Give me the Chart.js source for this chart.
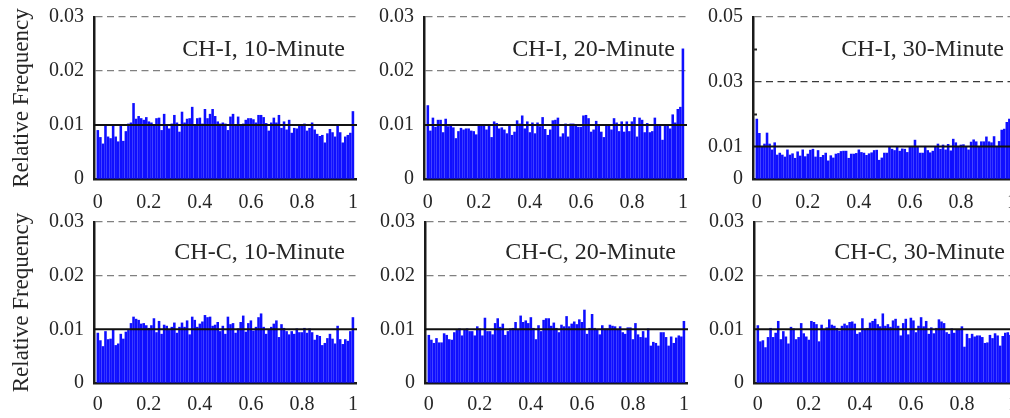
<!DOCTYPE html>
<html lang="en">
  <head>
    <meta charset="UTF-8" />
    <title>Relative Frequency Histograms</title>
    <script src="https://cdn.jsdelivr.net/npm/chart.js"></script>
    <style>
      html,
      body {
        margin: 0;
        padding: 0;
        background: #ffffff;
      }

      #figure {
        position: relative;
        width: 1010px;
        height: 418px;
        overflow: hidden;
      }

      #figure canvas {
        position: absolute;
      }
    </style>
  </head>
  <body>
    <div id="figure">
      <canvas id="chI10" width="357" height="216" style="left: 0; top: 0"></canvas>
      <canvas id="chI20" width="357" height="216" style="left: 330px; top: 0"></canvas>
      <canvas id="chI30" width="367" height="216" style="left: 659px; top: 0"></canvas>
      <canvas id="chC10" width="357" height="213" style="left: 0; top: 205px"></canvas>
      <canvas id="chC20" width="357" height="213" style="left: 331px; top: 205px"></canvas>
      <canvas id="chC30" width="367" height="213" style="left: 660px; top: 205px"></canvas>
    </div>

    <script>
      // bins of width 0.01, centred on 0, 0.01, ... 1
      const BIN_WIDTH = 0.01;
      const X_TICKS = [0, 0.2, 0.4, 0.6, 0.8, 1];
      const X_MIN = -0.015;
      const X_MAX = 1.016;
      const REF_LEVEL = 0.01;

      const CHI_10 = [
        0.0090, 0.0077, 0.0065, 0.0101, 0.0078, 0.0075, 0.0099, 0.0078, 0.0069, 0.0099,
        0.0070, 0.0088, 0.0102, 0.0104, 0.0140, 0.0111, 0.0116, 0.0112, 0.0109, 0.0114,
        0.0106, 0.0104, 0.0099, 0.0112, 0.0113, 0.0090, 0.0120, 0.0101, 0.0093, 0.0102,
        0.0118, 0.0104, 0.0087, 0.0124, 0.0104, 0.0111, 0.0112, 0.0133, 0.0098, 0.0112,
        0.0113, 0.0102, 0.0129, 0.0112, 0.0120, 0.0129, 0.0116, 0.0106, 0.0102, 0.0104,
        0.0102, 0.0090, 0.0115, 0.0120, 0.0101, 0.0115, 0.0101, 0.0102, 0.0109, 0.0112,
        0.0112, 0.0110, 0.0104, 0.0118, 0.0118, 0.0114, 0.0103, 0.0089, 0.0104, 0.0113,
        0.0104, 0.0118, 0.0094, 0.0106, 0.0091, 0.0109, 0.0085, 0.0094, 0.0093, 0.0098,
        0.0101, 0.0102, 0.0089, 0.0094, 0.0104, 0.0091, 0.0083, 0.0079, 0.0081, 0.0067,
        0.0084, 0.0092, 0.0086, 0.0078, 0.0098, 0.0086, 0.0067, 0.0078, 0.0081, 0.0085,
        0.0125,
      ];
      const CHI_20 = [
        0.0136, 0.0089, 0.0113, 0.0096, 0.0109, 0.0109, 0.0086, 0.0111, 0.0097, 0.0099,
        0.0095, 0.0075, 0.0088, 0.0094, 0.0091, 0.0093, 0.0093, 0.0089, 0.0088, 0.0082,
        0.0099, 0.0100, 0.0099, 0.0091, 0.0098, 0.0077, 0.0106, 0.0103, 0.0093, 0.0095,
        0.0091, 0.0084, 0.0100, 0.0081, 0.0087, 0.0108, 0.0102, 0.0117, 0.0093, 0.0106,
        0.0086, 0.0104, 0.0084, 0.0104, 0.0097, 0.0114, 0.0092, 0.0081, 0.0091, 0.0108,
        0.0109, 0.0113, 0.0078, 0.0084, 0.0102, 0.0078, 0.0102, 0.0102, 0.0101, 0.0096,
        0.0096, 0.0117, 0.0118, 0.0112, 0.0087, 0.0091, 0.0107, 0.0099, 0.0087, 0.0077,
        0.0101, 0.0099, 0.0091, 0.0112, 0.0104, 0.0088, 0.0106, 0.0087, 0.0106, 0.0088,
        0.0106, 0.0114, 0.0078, 0.0113, 0.0109, 0.0086, 0.0103, 0.0086, 0.0088, 0.0113,
        0.0099, 0.0099, 0.0072, 0.0099, 0.0100, 0.0093, 0.0119, 0.0104, 0.0129, 0.0133,
        0.0241,
      ];
      const CHI_30 = [
        0.0185, 0.0141, 0.0098, 0.0108, 0.0142, 0.0108, 0.0090, 0.0112, 0.0074, 0.0080,
        0.0074, 0.0068, 0.0090, 0.0074, 0.0078, 0.0064, 0.0084, 0.0071, 0.0090, 0.0069,
        0.0077, 0.0089, 0.0092, 0.0068, 0.0088, 0.0067, 0.0073, 0.0080, 0.0056, 0.0072,
        0.0065, 0.0077, 0.0079, 0.0085, 0.0086, 0.0086, 0.0064, 0.0077, 0.0077, 0.0079,
        0.0090, 0.0082, 0.0080, 0.0073, 0.0078, 0.0081, 0.0088, 0.0089, 0.0058, 0.0065,
        0.0080, 0.0080, 0.0098, 0.0092, 0.0088, 0.0100, 0.0086, 0.0093, 0.0092, 0.0082,
        0.0098, 0.0101, 0.0120, 0.0099, 0.0080, 0.0080, 0.0101, 0.0088, 0.0081, 0.0086,
        0.0098, 0.0108, 0.0092, 0.0105, 0.0090, 0.0107, 0.0087, 0.0123, 0.0112, 0.0098,
        0.0105, 0.0106, 0.0100, 0.0090, 0.0114, 0.0121, 0.0115, 0.0100, 0.0115, 0.0115,
        0.0130, 0.0115, 0.0112, 0.0131, 0.0099, 0.0116, 0.0151, 0.0154, 0.0175, 0.0185,
        0.0192,
      ];
      const CHC_10 = [
        0.0093, 0.0079, 0.0068, 0.0096, 0.0081, 0.0082, 0.0099, 0.0070, 0.0073, 0.0091,
        0.0082, 0.0095, 0.0098, 0.0111, 0.0123, 0.0119, 0.0117, 0.0110, 0.0111, 0.0107,
        0.0102, 0.0107, 0.0120, 0.0094, 0.0115, 0.0091, 0.0108, 0.0106, 0.0098, 0.0104,
        0.0112, 0.0093, 0.0104, 0.0112, 0.0104, 0.0116, 0.0090, 0.0123, 0.0117, 0.0104,
        0.0110, 0.0114, 0.0126, 0.0122, 0.0123, 0.0106, 0.0108, 0.0113, 0.0096, 0.0106,
        0.0091, 0.0123, 0.0109, 0.0111, 0.0093, 0.0101, 0.0113, 0.0125, 0.0095, 0.0111,
        0.0116, 0.0097, 0.0104, 0.0122, 0.0129, 0.0104, 0.0091, 0.0099, 0.0104, 0.0110,
        0.0116, 0.0085, 0.0109, 0.0102, 0.0096, 0.0090, 0.0096, 0.0091, 0.0101, 0.0094,
        0.0094, 0.0102, 0.0093, 0.0101, 0.0094, 0.0080, 0.0089, 0.0087, 0.0070, 0.0074,
        0.0083, 0.0091, 0.0082, 0.0073, 0.0106, 0.0081, 0.0072, 0.0081, 0.0078, 0.0096,
        0.0122,
      ];
      const CHC_20 = [
        0.0089, 0.0080, 0.0074, 0.0083, 0.0075, 0.0075, 0.0092, 0.0089, 0.0081, 0.0080,
        0.0094, 0.0098, 0.0101, 0.0088, 0.0099, 0.0101, 0.0096, 0.0096, 0.0088, 0.0105,
        0.0101, 0.0088, 0.0121, 0.0096, 0.0096, 0.0090, 0.0111, 0.0120, 0.0104, 0.0110,
        0.0089, 0.0096, 0.0101, 0.0102, 0.0113, 0.0100, 0.0125, 0.0113, 0.0116, 0.0111,
        0.0122, 0.0102, 0.0081, 0.0107, 0.0096, 0.0117, 0.0120, 0.0120, 0.0106, 0.0112,
        0.0102, 0.0094, 0.0108, 0.0105, 0.0124, 0.0105, 0.0110, 0.0114, 0.0109, 0.0118,
        0.0113, 0.0136, 0.0091, 0.0102, 0.0128, 0.0102, 0.0099, 0.0090, 0.0107, 0.0101,
        0.0101, 0.0108, 0.0106, 0.0105, 0.0100, 0.0105, 0.0094, 0.0091, 0.0103, 0.0103,
        0.0081, 0.0111, 0.0090, 0.0085, 0.0096, 0.0084, 0.0101, 0.0069, 0.0076, 0.0074,
        0.0069, 0.0094, 0.0094, 0.0085, 0.0069, 0.0086, 0.0074, 0.0084, 0.0088, 0.0086,
        0.0115,
      ];
      const CHC_30 = [
        0.0107, 0.0077, 0.0079, 0.0066, 0.0085, 0.0102, 0.0085, 0.0093, 0.0115, 0.0081,
        0.0096, 0.0086, 0.0073, 0.0104, 0.0101, 0.0081, 0.0085, 0.0111, 0.0092, 0.0086,
        0.0080, 0.0115, 0.0113, 0.0109, 0.0077, 0.0108, 0.0098, 0.0103, 0.0118, 0.0108,
        0.0106, 0.0102, 0.0097, 0.0106, 0.0110, 0.0107, 0.0113, 0.0114, 0.0110, 0.0091,
        0.0094, 0.0120, 0.0101, 0.0102, 0.0112, 0.0115, 0.0119, 0.0109, 0.0105, 0.0129,
        0.0106, 0.0109, 0.0104, 0.0116, 0.0119, 0.0106, 0.0088, 0.0111, 0.0119, 0.0090,
        0.0121, 0.0116, 0.0094, 0.0106, 0.0122, 0.0105, 0.0115, 0.0091, 0.0103, 0.0092,
        0.0102, 0.0118, 0.0114, 0.0111, 0.0094, 0.0091, 0.0101, 0.0093, 0.0100, 0.0100,
        0.0105, 0.0067, 0.0091, 0.0083, 0.0091, 0.0086, 0.0088, 0.0088, 0.0085, 0.0074,
        0.0075, 0.0089, 0.0083, 0.0092, 0.0088, 0.0069, 0.0087, 0.0093, 0.0094, 0.0089,
        0.0092,
      ];

      const Y_TICKS_LOW = [0, 0.01, 0.02, 0.03];
      const Y_TICKS_HIGH = [0, 0.01, 0.03, 0.05];
      const DASHED_LOW = [0.02, 0.03];
      const DASHED_HIGH = [0.03, 0.05];
      const MINOR_HIGH = [0.02, 0.04];

      const FONT = "'Liberation Serif', 'Times New Roman', serif";
      const TEXT = "#262626";

      // label text in the upper right corner of each panel
      const panelLabel = {
        id: "panelLabel",
        afterDraw(chart, args, opts) {
          const { ctx, chartArea } = chart;
          ctx.save();
          ctx.font = `24px ${FONT}`;
          ctx.fillStyle = TEXT;
          ctx.textAlign = "right";
          ctx.textBaseline = "alphabetic";
          ctx.fillText(opts.text, chartArea.right - 12, chartArea.top + opts.baseline);
          ctx.restore();
        },
      };

      // short inward tick marks on the left spine
      const minorTicks = {
        id: "minorTicks",
        afterDraw(chart, args, opts) {
          const values = opts.values || [];
          const { ctx, chartArea } = chart;
          const y = chart.scales.y;
          ctx.save();
          ctx.strokeStyle = TEXT;
          ctx.lineWidth = 2;
          values.forEach((v) => {
            const py = Math.round(y.getPixelForValue(v)) + 0.5;
            ctx.beginPath();
            ctx.moveTo(chartArea.left, py);
            ctx.lineTo(chartArea.left + 4, py);
            ctx.stroke();
          });
          ctx.restore();
        },
      };

      function makePanel(id, cfg) {
        const bars = cfg.values.map((v, i) => ({ x: i * BIN_WIDTH, y: v }));
        const dark = cfg.darkDashed || [];
        new Chart(document.getElementById(id), {
          type: "bar",
          data: {
            datasets: [
              {
                type: "line",
                data: [
                  { x: X_MIN, y: REF_LEVEL },
                  { x: X_MAX, y: REF_LEVEL },
                ],
                borderColor: "#111111",
                borderWidth: 2,
                pointRadius: 0,
                fill: false,
                order: 0,
              },
              {
                type: "bar",
                data: bars,
                backgroundColor: "#0f0fff",
                barThickness: 1.9,
                order: 1,
              },
            ],
          },
          options: {
            responsive: false,
            animation: false,
            layout: {
              padding: { top: 17, left: 0, right: cfg.padRight || 0, bottom: 0 },
              autoPadding: false,
            },
            plugins: {
              legend: { display: false },
              tooltip: { enabled: false },
              panelLabel: { text: cfg.label, baseline: cfg.labelBaseline },
              minorTicks: { values: cfg.minor || [] },
            },
            scales: {
              x: {
                type: "linear",
                min: X_MIN,
                max: X_MAX,
                offset: false,
                afterBuildTicks: (s) => {
                  s.ticks = X_TICKS.map((v) => ({ value: v }));
                },
                afterFit: (s) => {
                  s.height = cfg.xHeight;
                  s.paddingLeft = 0;
                  s.paddingRight = 0;
                },
                grid: { display: false, drawTicks: false },
                border: { display: true, color: "#1a1a1a", width: 2.5 },
                ticks: {
                  color: TEXT,
                  font: { family: FONT, size: 20 },
                  padding: cfg.xPad,
                  maxRotation: 0,
                  autoSkip: false,
                  callback: (v) => String(+Number(v).toFixed(1)),
                },
              },
              y: {
                min: 0,
                max: cfg.yMax,
                afterBuildTicks: (s) => {
                  s.ticks = cfg.yTicks.map((v) => ({ value: v }));
                },
                afterFit: (s) => {
                  s.width = 94;
                  s.paddingTop = 0;
                  s.paddingBottom = 0;
                },
                grid: {
                  drawTicks: false,
                  lineWidth: 1.3,
                  color: (ctx) => {
                    const v = ctx.tick.value;
                    const near = (d) => Math.abs(d - v) < 1e-9;
                    if (dark.some(near)) return "#3a3a3a";
                    return cfg.dashed.some(near) ? "#808080" : "rgba(0,0,0,0)";
                  },
                },
                border: {
                  display: true,
                  color: "#1a1a1a",
                  width: 2.5,
                  dash: [7, 4.5],
                },
                ticks: {
                  color: TEXT,
                  font: { family: FONT, size: 20 },
                  padding: 10,
                  autoSkip: false,
                  callback: (v) => (v === 0 ? "0" : Number(v).toFixed(2)),
                },
                title: {
                  display: cfg.yTitle,
                  text: "Relative Frequency",
                  color: TEXT,
                  font: { family: FONT, size: 23 },
                  padding: { top: 8, bottom: 0 },
                },
              },
            },
          },
          plugins: [panelLabel, minorTicks],
        });
      }

      const TOP_ROW = { xHeight: 37, xPad: 12, labelBaseline: 39 };
      const BOTTOM_ROW = { xHeight: 35, xPad: 10, labelBaseline: 37 };
      const LOW_Y = { yMax: 0.03, yTicks: Y_TICKS_LOW, dashed: DASHED_LOW };

      makePanel("chI10", { ...TOP_ROW, ...LOW_Y, values: CHI_10, label: "CH-I, 10-Minute", yTitle: true });
      makePanel("chI20", { ...TOP_ROW, ...LOW_Y, values: CHI_20, label: "CH-I, 20-Minute", yTitle: false });
      makePanel("chI30", {
        ...TOP_ROW,
        yMax: 0.05,
        yTicks: Y_TICKS_HIGH,
        dashed: DASHED_HIGH,
        darkDashed: [0.03],
        minor: MINOR_HIGH,
        values: CHI_30,
        label: "CH-I, 30-Minute",
        yTitle: false,
        padRight: 10,
      });
      makePanel("chC10", { ...BOTTOM_ROW, ...LOW_Y, values: CHC_10, label: "CH-C, 10-Minute", yTitle: true });
      makePanel("chC20", { ...BOTTOM_ROW, ...LOW_Y, values: CHC_20, label: "CH-C, 20-Minute", yTitle: false });
      makePanel("chC30", {
        ...BOTTOM_ROW,
        ...LOW_Y,
        values: CHC_30,
        label: "CH-C, 30-Minute",
        yTitle: false,
        padRight: 10,
      });
    </script>
  </body>
</html>
